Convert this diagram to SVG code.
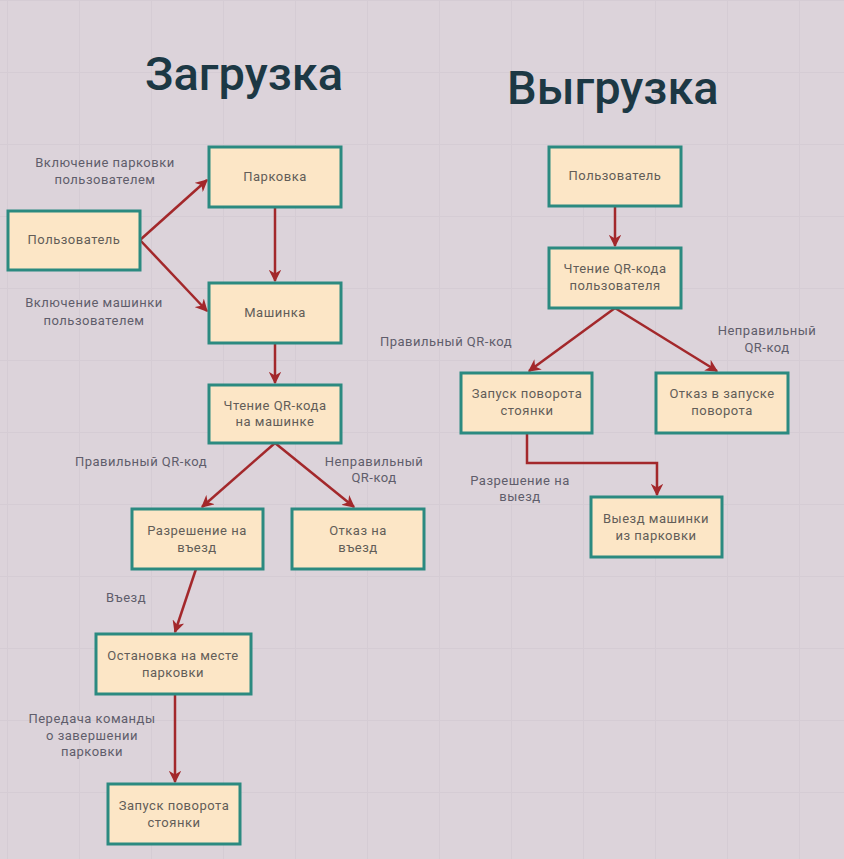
<svg xmlns="http://www.w3.org/2000/svg" width="844" height="859" viewBox="0 0 844 859">
<defs>
<pattern id="grid" width="72" height="72" patternUnits="userSpaceOnUse" x="7" y="0">
<path d="M0 0H72M0 0V72" fill="none" stroke="#d5ccd4" stroke-width="2"/>
</pattern>
<marker id="ah" viewBox="0 0 10 10" refX="9" refY="5" markerWidth="5" markerHeight="5" orient="auto" markerUnits="strokeWidth">
<path d="M0 0L10 5L0 10L3 5Z" fill="#a3282b"/>
</marker>
<style>
.n rect{fill:#fce6c6;stroke:#2b8a80;stroke-width:3}
.n text{font-family:Roboto,"Liberation Sans",sans-serif;font-size:13px;letter-spacing:0.5px;fill:#625d58;text-anchor:middle}
.c path{fill:none;stroke:#a3282b;stroke-width:2.5;marker-end:url(#ah)}
.l{font-family:Roboto,"Liberation Sans",sans-serif;font-size:13px;letter-spacing:0.5px;fill:#5f5d6b;text-anchor:middle}
.t{font-family:Roboto,"Liberation Sans",sans-serif;font-weight:500;font-size:47px;fill:#1c3844}
</style>
</defs>
<rect width="844" height="859" fill="#dcd3da"/>
<rect width="844" height="859" fill="url(#grid)"/>
<text class="t" x="145" y="90">Загрузка</text>
<text class="t" x="507" y="104">Выгрузка</text>
<g class="c">
<path d="M140 240L207 180"/>
<path d="M140 240L207 311"/>
<path d="M275 207V281"/>
<path d="M275 343V383"/>
<path d="M275 443L202 507"/>
<path d="M275 443L354 507"/>
<path d="M196 569L175 632"/>
<path d="M175 694V782"/>
<path d="M615 206V246"/>
<path d="M615 308L529 371"/>
<path d="M615 308L717 371"/>
<path d="M527 433V463H657V495"/>
</g>
<g id="n1" class="n"><rect x="8" y="211" width="132" height="59"/><text x="74" y="244">Пользователь</text></g>
<g id="n2" class="n"><rect x="209" y="147" width="132" height="60"/><text x="275" y="181">Парковка</text></g>
<g id="n3" class="n"><rect x="209" y="283" width="132" height="60"/><text x="275" y="317">Машинка</text></g>
<g id="n4" class="n"><rect x="209" y="385" width="132" height="58"/><text x="275" y="410">Чтение QR-кода</text><text x="275" y="426">на машинке</text></g>
<g id="n5" class="n"><rect x="132" y="509" width="131" height="60"/><text x="197" y="535">Разрешение на</text><text x="197" y="552">въезд</text></g>
<g id="n6" class="n"><rect x="292" y="509" width="132" height="60"/><text x="358" y="535">Отказ на</text><text x="358" y="552">въезд</text></g>
<g id="n7" class="n"><rect x="96" y="634" width="155" height="60"/><text x="173" y="660">Остановка на месте</text><text x="173" y="677">парковки</text></g>
<g id="n8" class="n"><rect x="108" y="784" width="132" height="60"/><text x="174" y="810">Запуск поворота</text><text x="174" y="827">стоянки</text></g>
<g id="m1" class="n"><rect x="549" y="147" width="132" height="59"/><text x="615" y="180">Пользователь</text></g>
<g id="m2" class="n"><rect x="549" y="248" width="132" height="60"/><text x="615" y="273">Чтение QR-кода</text><text x="615" y="290">пользователя</text></g>
<g id="m3" class="n"><rect x="461" y="373" width="131" height="60"/><text x="527" y="398">Запуск поворота</text><text x="527" y="415">стоянки</text></g>
<g id="m4" class="n"><rect x="656" y="373" width="132" height="60"/><text x="722" y="398">Отказ в запуске</text><text x="722" y="415">поворота</text></g>
<g id="m5" class="n"><rect x="591" y="497" width="131" height="60"/><text x="656" y="523">Выезд машинки</text><text x="656" y="540">из парковки</text></g>
<g id="labels">
<text class="l" x="105" y="167">Включение парковки</text>
<text class="l" x="105" y="184">пользователем</text>
<text class="l" x="94" y="307">Включение машинки</text>
<text class="l" x="94" y="325">пользователем</text>
<text class="l" x="141" y="466">Правильный QR-код</text>
<text class="l" x="374" y="466">Неправильный</text>
<text class="l" x="374" y="482">QR-код</text>
<text class="l" x="126" y="602">Въезд</text>
<text class="l" x="92" y="723">Передача команды</text>
<text class="l" x="92" y="740">о завершении</text>
<text class="l" x="92" y="756">парковки</text>
<text class="l" x="446" y="346">Правильный QR-код</text>
<text class="l" x="767" y="335">Неправильный</text>
<text class="l" x="767" y="352">QR-код</text>
<text class="l" x="520" y="485">Разрешение на</text>
<text class="l" x="520" y="501">выезд</text>
</g>
</svg>
